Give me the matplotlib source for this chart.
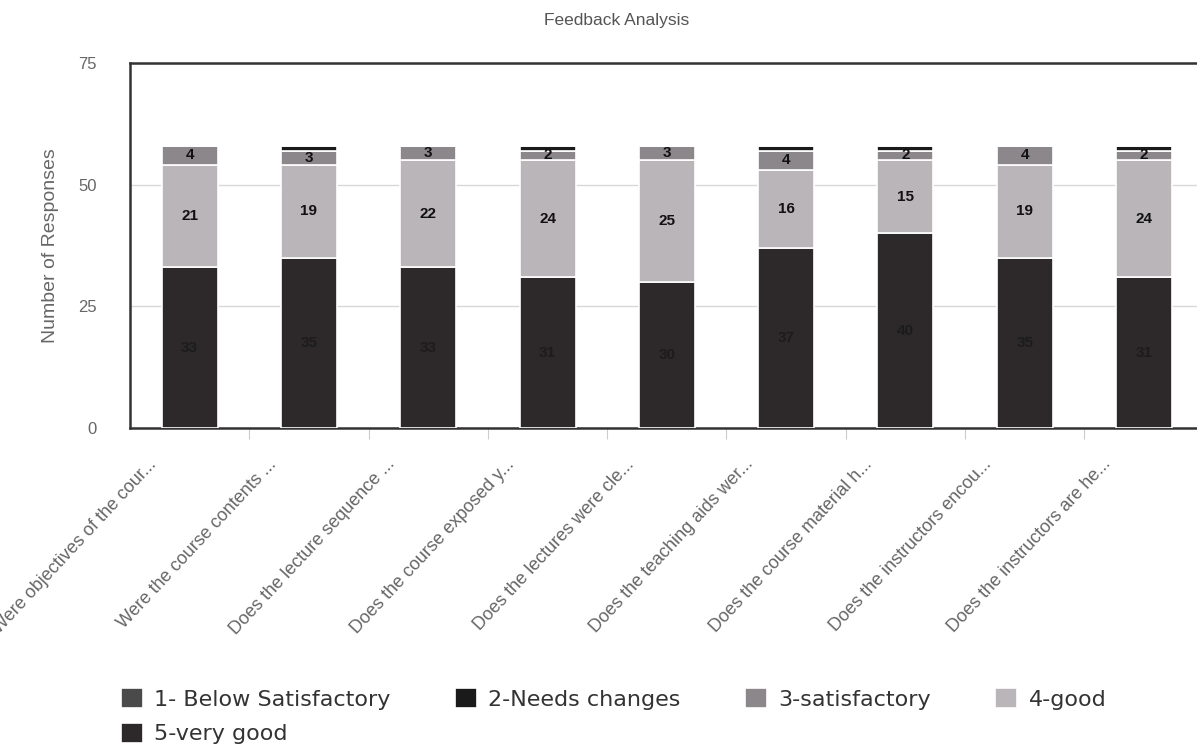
import numpy as np
import matplotlib.pyplot as plt
import matplotlib.transforms as mtransforms

# Data
questions = ["Were objectives of the cour...", "Were the course contents ...",
             "Does the lecture sequence ...", "Does the course exposed y...",
             "Does the lectures were cle...", "Does the teaching aids wer...",
             "Does the course material h...", "Does the instructors encou...",
             "Does the instructors are he..."]
below_satisfactory = [0, 0, 0, 0, 0, 0, 0, 0, 0]
needs_changes = [0, 1, 0, 1, 0, 1, 1, 0, 1]
satisfactory = [4, 3, 3, 2, 3, 4, 2, 4, 2]
good = [21, 19, 22, 24, 25, 16, 15, 19, 24]
very_good = [33, 35, 33, 31, 30, 37, 40, 35, 31]

series = [
    ("5-very good", very_good, "#2d2829", "#1c1c1c"),
    ("4-good", good, "#b9b5b9", "#111111"),
    ("3-satisfactory", satisfactory, "#8b878a", "#111111"),
    ("2-Needs changes", needs_changes, "#1a1a1a", "#111111"),
    ("1- Below Satisfactory", below_satisfactory, "#4a4a4a", "#111111"),
]

axis_font = "Liberation Sans"

fig = plt.figure(figsize=(11.97, 7.48), dpi=100)
ax = fig.add_axes([0.1086, 0.4278, 0.897, 0.488])

x = np.arange(len(questions))
bottom = np.zeros(len(questions))
handles = {}
for name, vals, color, tcolor in series:
    vals = np.array(vals, dtype=float)
    bars = ax.bar(x, vals, width=0.47, bottom=bottom, color=color,
                  edgecolor="white", linewidth=1.2, zorder=3)
    handles[name] = bars
    labels = [str(int(v)) if v >= 2 else "" for v in vals]
    ax.bar_label(bars, labels=labels, label_type="center", color=tcolor,
                 fontsize=11, fontweight="bold", family=axis_font, zorder=4)
    bottom += vals

ax.set_xlim(-0.5, len(questions) - 0.5)
ax.set_ylim(0, 75)
ax.set_yticks([0, 25, 50, 75])
ax.yaxis.grid(True, color="#d8d8d8", linewidth=1, zorder=0)
ax.tick_params(axis="y", length=0, pad=24, labelsize=12, labelcolor="#666666")
for lbl in ax.get_yticklabels():
    lbl.set_family(axis_font)

# ticks between categories, labels at centers
ax.set_xticks(x + 0.5, minor=False)
ax.set_xticklabels([])
ax.set_xticks(x, minor=True)
ax.set_xticklabels(questions, minor=True, rotation=47, ha="right",
                   rotation_mode="anchor", fontsize=13, color="#666666",
                   family=axis_font)
ax.tick_params(axis="x", which="major", length=8, color="#cccccc", direction="out")
ax.tick_params(axis="x", which="minor", length=0, pad=20)
offset = mtransforms.ScaledTranslation(-0.42, 0, fig.dpi_scale_trans)
for lbl in ax.get_xticklabels(minor=True):
    lbl.set_transform(lbl.get_transform() + offset)

for side in ["left", "top", "bottom"]:
    ax.spines[side].set_color("#333333")
    ax.spines[side].set_linewidth(1.8)
ax.spines["right"].set_visible(False)

ax.set_ylabel("Number of Responses", fontsize=14, color="#666666", labelpad=14,
              family=axis_font)
fig.text(0.515, 0.972, "Feedback Analysis", ha="center", va="center",
         fontsize=12.5, color="#555555", family=axis_font)

order = ["1- Below Satisfactory", "5-very good", "2-Needs changes", "3-satisfactory", "4-good"]
fig.legend([handles[n] for n in order], order, loc="lower left",
           bbox_to_anchor=(0.084, -0.022), ncol=4, frameon=False, fontsize=16,
           handlelength=1.0, handleheight=1.0, handletextpad=0.5,
           columnspacing=2.9, labelspacing=0.6, labelcolor="#333333")

fig.savefig("out.png", dpi=100)
